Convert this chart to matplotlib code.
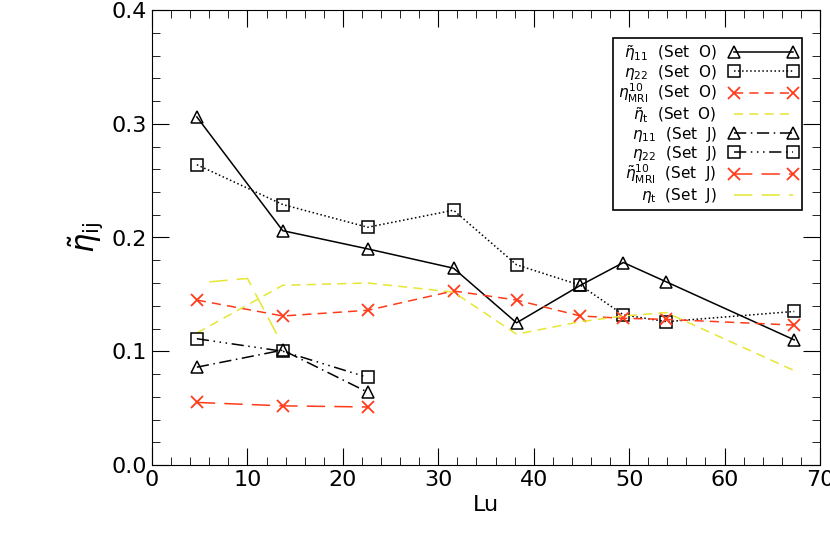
import numpy as np
import matplotlib.pyplot as plt
from matplotlib.ticker import MultipleLocator

lu_o = [4.7, 13.7, 22.6, 31.6, 38.2, 44.9, 49.4, 53.9, 67.3]
eta11_o = [0.306, 0.206, 0.190, 0.173, 0.125, 0.158, 0.178, 0.161, 0.110]
eta22_o = [0.264, 0.229, 0.209, 0.224, 0.176, 0.158, 0.132, 0.126, 0.135]
mri_o = [0.145, 0.131, 0.136, 0.153, 0.145, 0.131, 0.129, 0.128, 0.123]
etat_o = [0.116, 0.158, 0.160, 0.152, 0.115, 0.126, 0.131, 0.134, 0.083]

lu_j = [4.7, 13.7, 22.6]
eta11_j = [0.086, 0.101, 0.064]
eta22_j = [0.111, 0.100, 0.077]
mri_j = [0.055, 0.052, 0.051]
lu_tj = [6.0, 10.0, 13.2]
etat_j = [0.161, 0.164, 0.113]

red = '#ff3b1a'
yel = '#e6e633'

fig = plt.figure(figsize=(8.3, 5.54), dpi=100)
ax = fig.add_axes([152/830, 1-465/554, 668/830, 455/554])

mk = dict(mfc='none', mec='k', ms=8, mew=1.1)
ax.plot(lu_o, eta11_o, 'k-', marker='^', lw=1.1, label=r'$\tilde{\eta}_{11}$  (Set  O)', **mk)
ax.plot(lu_o, eta22_o, 'k:', marker='s', lw=1.1, label=r'$\eta_{22}$  (Set  O)', **mk)
ax.plot(lu_o, mri_o, color=red, ls=(0, (6, 4)), marker='x', ms=9, mew=1.3, lw=1.1,
        label=r'$\eta_{\rm MRI}^{10}$  (Set  O)')
ax.plot(lu_o, etat_o, color=yel, ls=(0, (6, 4)), lw=1.1, label=r'$\tilde{\eta}_{\rm t}$  (Set  O)')
ax.plot(lu_j, eta11_j, 'k', ls=(0, (8, 3, 1, 3)), marker='^', lw=1.1, label=r'$\eta_{11}$  (Set  J)', **mk)
ax.plot(lu_j, eta22_j, 'k', ls=(0, (8, 3, 1, 3, 1, 3, 1, 3)), marker='s', lw=1.1,
        label=r'$\eta_{22}$  (Set  J)', **mk)
ax.plot(lu_j, mri_j, color=red, ls=(0, (12, 6)), marker='x', ms=9, mew=1.3, lw=1.1,
        label=r'$\tilde{\eta}_{\rm MRI}^{10}$  (Set  J)')
ax.plot(lu_tj, etat_j, color=yel, ls=(0, (12, 6)), lw=1.1, label=r'$\eta_{\rm t}$  (Set  J)')

ax.set_xlim(0, 70)
ax.set_ylim(0, 0.4)
ax.xaxis.set_major_locator(MultipleLocator(10))
ax.xaxis.set_minor_locator(MultipleLocator(2))
ax.yaxis.set_major_locator(MultipleLocator(0.1))
ax.yaxis.set_minor_locator(MultipleLocator(0.02))
ax.yaxis.set_major_formatter(plt.FuncFormatter(lambda v, p: f'{v:.1f}'))
ax.tick_params(which='both', direction='in', top=True, right=True, labelsize=16)
ax.tick_params(which='major', length=12)
ax.tick_params(which='minor', length=6)
ax.set_xlabel('Lu', fontsize=16)
ax.set_ylabel(r'$\tilde{\eta}_{\rm ij}$', fontsize=22)

leg = ax.legend(loc='upper right', fontsize=11, handlelength=4.5, labelspacing=0.0,
                borderpad=0.3, fancybox=False, edgecolor='k', markerfirst=False,
                numpoints=2, bbox_to_anchor=(0.985, 0.955), framealpha=1)
leg.get_frame().set_linewidth(1.2)

fig.savefig('out.png')
